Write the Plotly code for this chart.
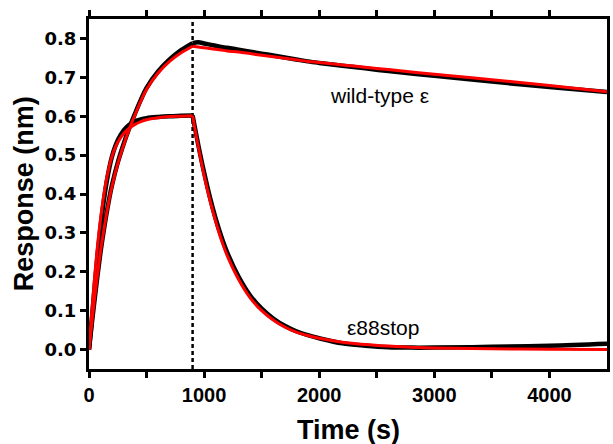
import plotly.graph_objects as go

# ---------------- data ----------------
ASSOC_END = 900  # end of association phase (s)

t_assoc = [0, 25, 50, 75, 100, 125, 150, 175, 200, 250, 300, 350, 400, 450, 500, 600, 700, 800, 900]
t_dissoc = [900, 950, 1000, 1050, 1100, 1150, 1200, 1300, 1400, 1500, 1600, 1700, 1800, 1900,
            2000, 2200, 2400, 2600, 2800, 3000, 3500, 4000, 4500]

# wild-type epsilon
wt_fit_assoc = [0.0, 0.07, 0.135, 0.195, 0.252, 0.30, 0.345, 0.385, 0.42, 0.478, 0.525, 0.567,
                0.604, 0.639, 0.669, 0.711, 0.741, 0.763, 0.780]
wt_data_assoc = [0.0, 0.068, 0.132, 0.193, 0.25, 0.30, 0.346, 0.387, 0.423, 0.481, 0.528, 0.57,
                 0.607, 0.642, 0.673, 0.715, 0.746, 0.770, 0.788]
wt_fit_dissoc = [0.780, 0.778, 0.776, 0.774, 0.772, 0.770, 0.768, 0.765, 0.761, 0.757, 0.753,
                 0.749, 0.745, 0.741, 0.738, 0.732, 0.726, 0.720, 0.714, 0.708, 0.694, 0.679, 0.663]
wt_data_dissoc = [0.788, 0.790, 0.787, 0.784, 0.781, 0.778, 0.776, 0.771, 0.766, 0.761, 0.756,
                  0.751, 0.746, 0.741, 0.737, 0.730, 0.723, 0.716, 0.710, 0.704, 0.689, 0.675, 0.662]

# epsilon88stop
st_fit_assoc = [0.0, 0.10, 0.19, 0.27, 0.335, 0.39, 0.435, 0.47, 0.497, 0.533, 0.555, 0.569,
                0.579, 0.586, 0.591, 0.596, 0.599, 0.600, 0.601]
st_data_assoc = [0.0, 0.08, 0.165, 0.245, 0.315, 0.375, 0.425, 0.465, 0.497, 0.538, 0.563, 0.578,
                 0.587, 0.592, 0.595, 0.598, 0.600, 0.601, 0.602]
st_fit_dissoc = [0.601, 0.52, 0.448, 0.385, 0.33, 0.282, 0.242, 0.18, 0.133, 0.10, 0.076, 0.058,
                 0.045, 0.036, 0.029, 0.019, 0.013, 0.009, 0.006, 0.004, 0.002, 0.001, 0.0]
st_data_dissoc = [0.602, 0.525, 0.455, 0.392, 0.337, 0.29, 0.25, 0.187, 0.139, 0.105, 0.08, 0.061,
                  0.047, 0.037, 0.029, 0.016, 0.010, 0.006, 0.005, 0.005, 0.007, 0.010, 0.015]

x_tickvals = [0, 500, 1000, 1500, 2000, 2500, 3000, 3500, 4000]
x_ticktext = ["0", "", "1000", "", "2000", "", "3000", "", "4000"]
y_tickvals = [0.0, 0.1, 0.2, 0.3, 0.4, 0.5, 0.6, 0.7, 0.8]

labels = [("wild-type ε", 2074, 0.653), ("ε88stop", 2227, 0.058)]

# ---------------- figure ----------------
fig = go.Figure()

def add(t, v, color, width):
    fig.add_trace(go.Scatter(x=t, y=v, mode="lines",
                             line=dict(color=color, width=width, shape="spline"),
                             hoverinfo="skip", showlegend=False))

# data (black) first, fits (red) on top
add(t_assoc, wt_data_assoc, "black", 4.5)
add(t_dissoc, wt_data_dissoc, "black", 4.5)
add(t_assoc, st_data_assoc, "black", 4.5)
add(t_dissoc, st_data_dissoc, "black", 4.5)
add(t_assoc, wt_fit_assoc, "#ff0000", 3)
add(t_dissoc, wt_fit_dissoc, "#ff0000", 3)
add(t_assoc, st_fit_assoc, "#ff0000", 3)
add(t_dissoc, st_fit_dissoc, "#ff0000", 3)

fig.add_shape(type="line", x0=ASSOC_END, x1=ASSOC_END, xref="x", y0=0, y1=1, yref="paper",
              line=dict(color="black", width=2.5, dash="4px,3px"), layer="below")

for txt, lx, ly in labels:
    fig.add_annotation(x=lx, y=ly, xref="x", yref="y", text=txt, showarrow=False,
                       xanchor="left", yanchor="middle",
                       font=dict(family="Liberation Sans, Arial", size=21, color="black"))

fig.add_annotation(x=0.5, y=-0.174, xref="paper", yref="paper", text="Time (s)", showarrow=False,
                   xanchor="center", yanchor="middle",
                   font=dict(family="Liberation Sans, Arial", size=27, color="black", weight="bold"))
fig.add_annotation(x=-0.1248, y=0.5, xref="paper", yref="paper", text="Response (nm)",
                   showarrow=False, textangle=-90, xanchor="center", yanchor="middle",
                   font=dict(family="Liberation Sans, Arial", size=27, color="black", weight="bold"))

fig.update_xaxes(range=[0, 4500], showline=True, linecolor="black", linewidth=3, mirror="ticks",
                 ticks="outside", ticklen=6, tickwidth=2.5, tickcolor="black",
                 tickmode="array", tickvals=x_tickvals, ticktext=x_ticktext,
                 showgrid=False, zeroline=False,
                 tickfont=dict(family="Liberation Sans, Arial", size=20, color="black", weight="bold"))
fig.update_yaxes(range=[-0.05, 0.85], showline=True, linecolor="black", linewidth=3, mirror=True,
                 ticks="outside", ticklen=6, tickwidth=2.5, tickcolor="black",
                 tickmode="array", tickvals=y_tickvals, tickformat=".1f",
                 showgrid=False, zeroline=False,
                 tickfont=dict(family="DejaVu Sans", size=18, color="black", weight="bold"))

fig.update_layout(width=613, height=444, margin=dict(l=89, r=3, t=19, b=75),
                  plot_bgcolor="white", paper_bgcolor="white", showlegend=False)

fig.write_html("out.html")
